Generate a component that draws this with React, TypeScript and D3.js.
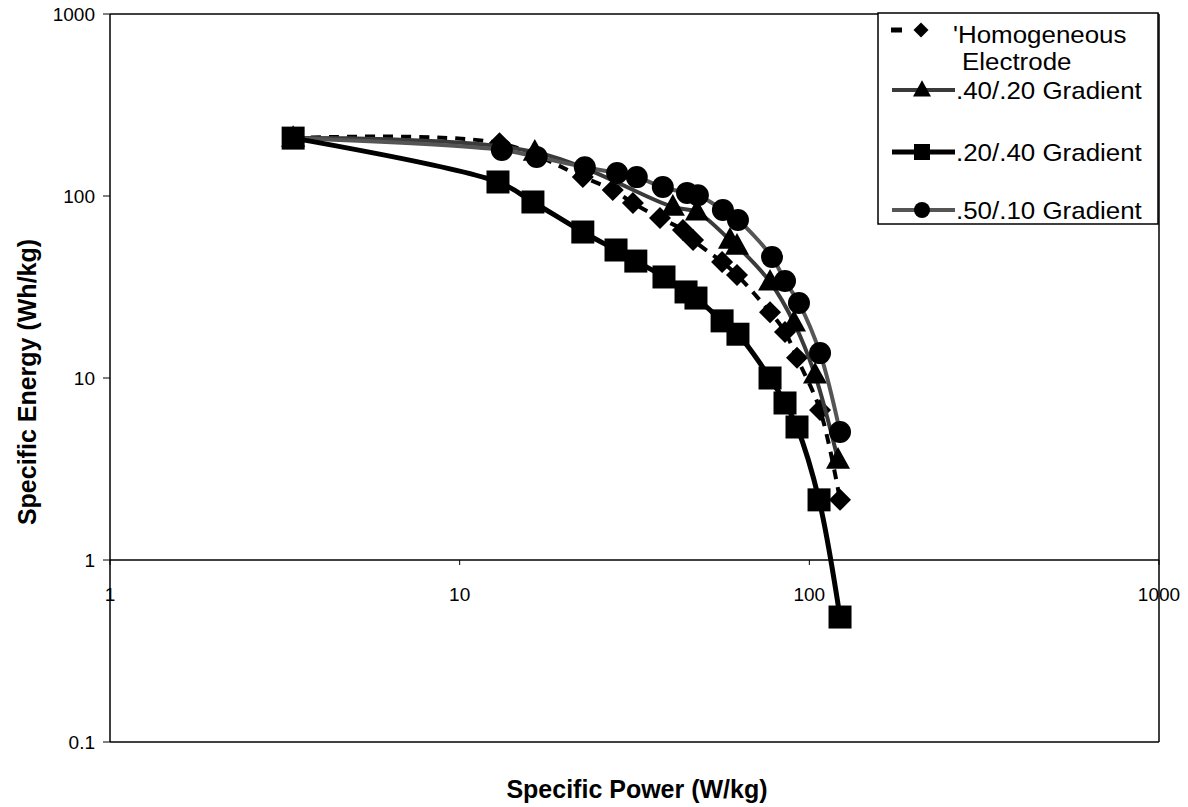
import React from "react";
import * as d3 from "d3";

const xTicks = [1, 10, 100, 1000];
const yTicks = [0.1, 1, 10, 100, 1000];

const homoPower = [3.34, 13.0, 22.5, 27.4, 31.3, 37.4, 43.5, 46.5, 56.3, 62.1, 77.2, 85.2, 92.2, 107.3, 122.4];
const homoEnergy = [208, 195, 127, 108, 91.5, 75.7, 65.1, 57.3, 43.4, 36.8, 23.0, 17.9, 12.9, 6.67, 2.14];

const g4020Power = [3.34, 16.4, 40.7, 47.7, 59.3, 62.1, 77.2, 90.4, 103.8, 120.8];
const g4020Energy = [208, 174.5, 87.0, 81.7, 57.3, 53.1, 33.7, 20.1, 10.4, 3.54];

const g2040Power = [3.34, 12.87, 16.2, 22.5, 28.0, 31.9, 38.4, 44.4, 47.4, 56.3, 62.5, 77.2, 85.2, 92.2, 106.6, 122.4];
const g2040Energy = [208, 119.4, 92.7, 63.4, 50.5, 43.9, 35.9, 29.7, 27.5, 20.6, 17.4, 10.0, 7.29, 5.38, 2.14, 0.486];

const g5010Power = [3.34, 13.2, 16.6, 22.8, 28.2, 32.1, 38.1, 44.7, 48.0, 56.6, 62.5, 78.2, 85.2, 93.4, 107.3, 122.4];
const g5010Energy = [208, 179, 164, 144, 133.8, 127, 112, 104, 101, 83.8, 73.8, 46.2, 34.1, 25.8, 13.7, 5.05];

const legendLabels = ["'Homogeneous", "Electrode", ".40/.20 Gradient", ".20/.40 Gradient", ".50/.10 Gradient"];

const FONT = "'Liberation Sans', Arial, sans-serif";

type Pt = [number, number];
const zip = (a: number[], b: number[]): Pt[] => a.map((v, i) => [v, b[i]]);

function Marker({ kind, x, y, s }: { kind: string; x: number; y: number; s: number }) {
  if (kind === "diamond") {
    const h = s / 2;
    return <path d={`M${x},${y - h}L${x + h},${y}L${x},${y + h}L${x - h},${y}Z`} fill="#000" />;
  }
  if (kind === "triangle") {
    const h = s * 0.9;
    return <path d={`M${x},${y - h * 0.6}L${x + s / 2},${y + h * 0.4}L${x - s / 2},${y + h * 0.4}Z`} fill="#000" />;
  }
  if (kind === "square") {
    return <rect x={x - s / 2} y={y - s / 2} width={s} height={s} fill="#000" />;
  }
  return <circle cx={x} cy={y} r={s / 2} fill="#000" />;
}

function LegendText({ x, y, children }: { x: number; y: number; children: React.ReactNode }) {
  return (
    <text transform={`translate(${x},${y}) scale(1.08,1)`} fontSize={24}>
      {children}
    </text>
  );
}

export default function App() {
  const W = 1188, H = 807;
  const x = d3.scaleLog().domain([1, 1000]).range([110, 1159]);
  const y = d3.scaleLog().domain([0.1, 1000]).range([742, 14]);
  const line = d3
    .line<Pt>()
    .x((d) => x(d[0]))
    .y((d) => y(d[1]))
    .curve(d3.curveCatmullRom.alpha(0.5));

  const series = [
    { key: "homo", data: zip(homoPower, homoEnergy), kind: "diamond", stroke: "#000", width: 4, dash: "10,8", size: 22 },
    { key: "g4020", data: zip(g4020Power, g4020Energy), kind: "triangle", stroke: "#3a3a3a", width: 4, dash: "", size: 24 },
    { key: "g5010", data: zip(g5010Power, g5010Energy), kind: "circle", stroke: "#555", width: 4, dash: "", size: 22 },
    { key: "g2040", data: zip(g2040Power, g2040Energy), kind: "square", stroke: "#000", width: 5, dash: "", size: 23 },
  ];

  return (
    <svg width={W} height={H} style={{ position: "absolute", left: 0, top: 0, background: "#fff" }} fontFamily={FONT}>
      <rect x={0} y={0} width={W} height={H} fill="#fff" />
      {/* plot frame */}
      <line x1={110} y1={14} x2={1159} y2={14} stroke="#000" strokeWidth={1.5} />
      <line x1={1159} y1={14} x2={1159} y2={742} stroke="#000" strokeWidth={1.5} />
      <line x1={110} y1={742} x2={1159} y2={742} stroke="#000" strokeWidth={1.5} />
      <line x1={110} y1={14} x2={110} y2={742} stroke="#000" strokeWidth={1.5} />
      {/* x axis crossing at y=1 */}
      <line x1={110} y1={y(1)} x2={1159} y2={y(1)} stroke="#000" strokeWidth={1.5} />
      {xTicks.map((t) => (
        <g key={"xt" + t}>
          <line x1={x(t)} y1={y(1)} x2={x(t)} y2={y(1) + 5} stroke="#000" strokeWidth={1} />
          <text x={x(t)} y={y(1) + 41} textAnchor="middle" fontSize={19}>
            {t}
          </text>
        </g>
      ))}
      {yTicks.map((t) => (
        <g key={"yt" + t}>
          <line x1={103} y1={y(t)} x2={110} y2={y(t)} stroke="#000" strokeWidth={1} />
          <text x={95} y={y(t) + 7} textAnchor="end" fontSize={19}>
            {t}
          </text>
        </g>
      ))}
      {/* series */}
      {series.map((s) => (
        <g key={s.key}>
          <path d={line(s.data) || ""} fill="none" stroke={s.stroke} strokeWidth={s.width} strokeDasharray={s.dash || undefined} />
          {s.data.map((d, i) => (
            <Marker key={i} kind={s.kind} x={x(d[0])} y={y(d[1])} s={s.size} />
          ))}
        </g>
      ))}
      {/* axis titles */}
      <text x={637} y={798} textAnchor="middle" fontSize={25} fontWeight="bold">
        Specific Power (W/kg)
      </text>
      <text transform={`translate(36,382) rotate(-90)`} textAnchor="middle" fontSize={25} fontWeight="bold">
        Specific Energy (Wh/kg)
      </text>
      {/* legend */}
      <g>
        <rect x={878} y={13} width={280} height={211} fill="#fff" stroke="#000" strokeWidth={1.5} />
        <line x1={891} y1={30} x2={902} y2={30} stroke="#000" strokeWidth={5} />
        <Marker kind="diamond" x={921} y={30} s={15} />
        <LegendText x={953} y={43}>{legendLabels[0]}</LegendText>
        <LegendText x={962} y={70}>{legendLabels[1]}</LegendText>

        <line x1={892} y1={90} x2={955} y2={90} stroke="#3a3a3a" strokeWidth={4} />
        <Marker kind="triangle" x={922} y={90} s={18} />
        <LegendText x={956} y={99}>{legendLabels[2]}</LegendText>

        <line x1={892} y1={152} x2={955} y2={152} stroke="#000" strokeWidth={5} />
        <Marker kind="square" x={922} y={152} s={16} />
        <LegendText x={956} y={161}>{legendLabels[3]}</LegendText>

        <line x1={892} y1={210} x2={955} y2={210} stroke="#555" strokeWidth={4} />
        <Marker kind="circle" x={922} y={210} s={16} />
        <LegendText x={956} y={219}>{legendLabels[4]}</LegendText>
      </g>
    </svg>
  );
}
